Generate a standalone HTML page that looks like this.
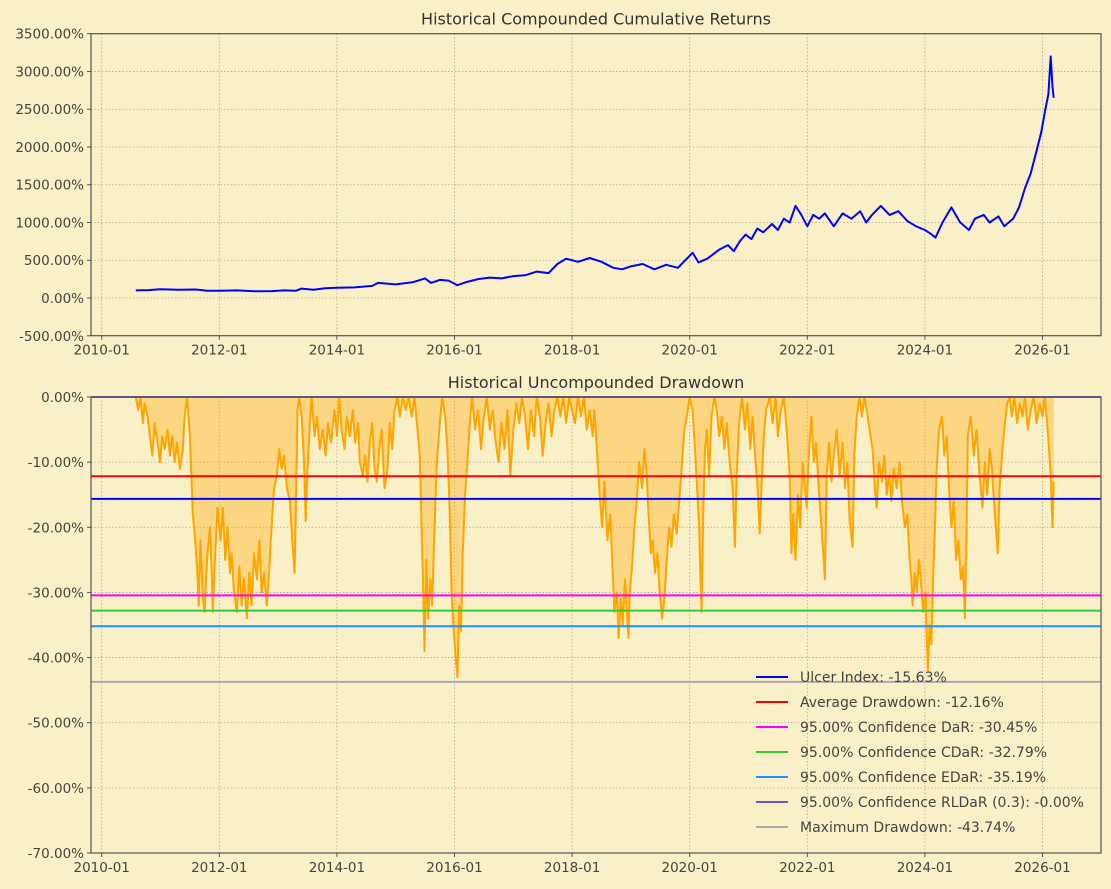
<!DOCTYPE html>
<html><head><meta charset="utf-8"><style>
body{margin:0;background:#faf0c8;}
svg{display:block;font-family:"DejaVu Sans","Liberation Sans",sans-serif;}
</style></head><body>
<svg id="chart" width="1111" height="889" viewBox="0 0 1111 889">
<rect width="1111" height="889" fill="#faf0c8"/>
<g id="top"></g>
<g id="bot"></g>
</svg>
<script>
const cumYears=[0.58,0.8,1.0,1.3,1.6,1.8,2.0,2.3,2.6,2.9,3.1,3.3,3.4,3.6,3.8,4.0,4.3,4.6,4.7,5.0,5.3,5.5,5.6,5.75,5.9,6.05,6.2,6.4,6.6,6.8,7.0,7.2,7.4,7.6,7.75,7.9,8.1,8.3,8.5,8.7,8.85,9.0,9.2,9.4,9.6,9.8,9.95,10.05,10.15,10.3,10.5,10.65,10.75,10.85,10.95,11.05,11.15,11.25,11.4,11.5,11.6,11.7,11.8,11.9,12.0,12.1,12.2,12.3,12.45,12.6,12.75,12.9,13.0,13.1,13.25,13.4,13.55,13.7,13.85,14.0,14.1,14.18,14.3,14.45,14.6,14.75,14.85,15.0,15.1,15.25,15.35,15.5,15.6,15.7,15.8,15.9,15.98,16.05,16.1,16.14,16.17,16.19];
const cumValues=[100,105,115,110,112,95,95,100,90,92,100,95,125,110,130,135,140,160,200,180,210,260,200,240,230,170,210,250,270,260,290,300,350,330,450,520,480,530,480,400,380,420,450,380,440,400,520,600,470,520,640,700,620,750,840,780,920,870,980,900,1050,1000,1220,1100,950,1100,1050,1120,950,1120,1050,1150,1000,1100,1220,1100,1150,1020,950,900,850,800,1000,1200,1000,900,1050,1100,1000,1080,950,1050,1200,1450,1650,1950,2200,2500,2700,3200,2800,2650];
const cumTicks=[-500,0,500,1000,1500,2000,2500,3000,3500];
const ddYears=[0.58,0.62,0.66,0.70,0.73,0.78,0.82,0.86,0.90,0.95,0.99,1.03,1.07,1.12,1.16,1.20,1.24,1.28,1.33,1.38,1.41,1.45,1.50,1.55,1.58,1.62,1.65,1.68,1.72,1.75,1.79,1.84,1.87,1.89,1.93,1.97,2.02,2.06,2.10,2.14,2.18,2.21,2.25,2.30,2.34,2.38,2.42,2.47,2.51,2.55,2.59,2.64,2.68,2.72,2.76,2.81,2.85,2.89,2.93,2.98,3.02,3.06,3.10,3.15,3.20,3.24,3.28,3.30,3.33,3.36,3.40,3.44,3.47,3.50,3.54,3.57,3.62,3.66,3.71,3.76,3.81,3.85,3.90,3.96,4.00,4.04,4.08,4.13,4.17,4.22,4.27,4.31,4.36,4.39,4.44,4.48,4.52,4.56,4.60,4.64,4.68,4.72,4.76,4.81,4.86,4.90,4.94,4.98,5.03,5.07,5.12,5.17,5.22,5.27,5.32,5.37,5.41,5.44,5.47,5.49,5.52,5.55,5.59,5.62,5.66,5.70,5.75,5.79,5.84,5.88,5.92,5.95,5.98,6.02,6.05,6.08,6.11,6.14,6.18,6.22,6.26,6.30,6.35,6.40,6.45,6.50,6.55,6.60,6.65,6.70,6.75,6.80,6.85,6.90,6.95,7.00,7.05,7.10,7.15,7.20,7.25,7.30,7.35,7.40,7.45,7.50,7.55,7.60,7.65,7.70,7.75,7.80,7.85,7.90,7.95,8.00,8.05,8.10,8.15,8.20,8.25,8.30,8.35,8.38,8.42,8.47,8.51,8.55,8.60,8.65,8.69,8.72,8.76,8.79,8.83,8.86,8.90,8.93,8.96,8.98,9.02,9.06,9.10,9.14,9.19,9.23,9.27,9.30,9.34,9.37,9.41,9.45,9.49,9.53,9.57,9.61,9.65,9.69,9.73,9.78,9.83,9.87,9.91,9.95,10.00,10.05,10.09,10.12,10.16,10.20,10.23,10.26,10.29,10.33,10.37,10.42,10.46,10.50,10.55,10.59,10.63,10.68,10.73,10.77,10.80,10.84,10.89,10.94,10.98,11.03,11.07,11.11,11.15,11.19,11.22,11.26,11.30,11.36,11.41,11.46,11.50,11.55,11.60,11.65,11.70,11.73,11.76,11.80,11.84,11.88,11.92,11.96,11.99,12.03,12.07,12.11,12.15,12.20,12.25,12.30,12.33,12.37,12.41,12.45,12.50,12.55,12.60,12.64,12.68,12.72,12.77,12.80,12.84,12.89,12.93,12.97,13.01,13.06,13.11,13.15,13.18,13.22,13.27,13.31,13.35,13.39,13.43,13.47,13.52,13.57,13.61,13.66,13.70,13.74,13.77,13.79,13.83,13.86,13.90,13.93,13.97,14.01,14.05,14.08,14.11,14.14,14.17,14.20,14.24,14.29,14.33,14.37,14.41,14.45,14.49,14.53,14.57,14.61,14.65,14.68,14.71,14.73,14.78,14.83,14.88,14.93,14.98,15.02,15.06,15.10,15.14,15.19,15.24,15.27,15.32,15.36,15.40,15.44,15.48,15.52,15.57,15.61,15.66,15.70,15.75,15.80,15.85,15.90,15.95,16.00,16.04,16.08,16.11,16.14,16.17,16.19];
const ddValues=[0,-2,0,-4,-1,-3,-6,-9,-4,-7,-10,-6,-8,-5,-9,-6,-10,-7,-11,-8,-3,0,-6,-18,-21,-26,-32,-22,-31,-33,-25,-20,-27,-33,-24,-17,-22,-17,-25,-20,-27,-24,-30,-33,-26,-32,-28,-34,-27,-32,-24,-28,-22,-30,-27,-32,-26,-20,-14,-12,-8,-11,-9,-14,-16,-22,-27,-18,-2,0,-3,-10,-19,-11,-4,0,-6,-3,-8,-5,-9,-4,-7,-2,-6,0,-5,-8,-3,-6,-2,-7,-4,-10,-12,-9,-13,-7,-4,-11,-13,-8,-5,-14,-11,-4,-8,-2,0,-3,0,-2,0,-3,0,-5,-9,-20,-30,-39,-25,-34,-28,-32,-20,-10,-4,0,-3,-8,-18,-30,-35,-40,-43,-32,-36,-24,-15,-10,-4,0,-5,-2,-8,-3,0,-5,-2,-7,-10,-4,-8,-2,-12,-5,-1,-4,0,-3,-8,-2,-6,0,-3,-9,-4,-1,-6,-2,0,-3,0,-4,0,-2,-4,0,-3,0,-5,-2,-6,-2,-8,-15,-20,-13,-22,-18,-27,-33,-30,-37,-31,-35,-28,-33,-37,-30,-26,-20,-16,-10,-14,-8,-12,-18,-24,-22,-27,-24,-30,-34,-31,-25,-20,-23,-18,-21,-15,-10,-5,-3,0,-2,-8,-13,-20,-33,-18,-8,-5,-12,-3,0,-2,-6,-3,-8,-4,-10,-14,-23,-12,-4,0,-5,-1,-8,-3,-9,-13,-21,-14,-6,-2,0,-4,0,-6,-2,0,-5,-12,-24,-18,-25,-15,-20,-10,-14,-17,-8,-3,-10,-7,-15,-21,-28,-12,-7,-13,-9,-5,-12,-7,-14,-10,-19,-23,-9,-3,0,-3,0,-2,-5,-8,-14,-17,-10,-13,-9,-15,-12,-16,-11,-14,-10,-16,-20,-18,-25,-28,-32,-27,-30,-25,-28,-33,-30,-42,-35,-38,-28,-20,-11,-5,-3,-9,-6,-14,-20,-16,-25,-22,-28,-26,-34,-20,-6,-3,-9,-5,-12,-17,-10,-15,-8,-11,-18,-24,-14,-8,-4,-1,0,-3,0,-4,-1,-3,0,-5,-2,0,-4,-1,-3,0,-4,-8,-12,-20,-13];
const ddTicks=[0,-10,-20,-30,-40,-50,-60,-70];
const xTicks=[2010,2012,2014,2016,2018,2020,2022,2024,2026];
const riskLabels=["Ulcer Index: -15.63%","Average Drawdown: -12.16%","95.00% Confidence DaR: -30.45%","95.00% Confidence CDaR: -32.79%","95.00% Confidence EDaR: -35.19%","95.00% Confidence RLDaR (0.3): -0.00%","Maximum Drawdown: -43.74%"];
const riskValues=[-15.63,-12.16,-30.45,-32.79,-35.19,-0.00,-43.74];
const riskColors=["#0000ff","#ff0000","#ff00ff","#32cd32","#1e90ff","#6a5acd","#a9a9a9"];
const riskNames=["ulcer-index","average-drawdown","dar","cdar","edar","rldar","max-drawdown"];

const NS="http://www.w3.org/2000/svg";
const L=91,R=1101;
const xs=y=>101.7+(y-2010)*58.8;
function el(parent,tag,attrs,text){const e=document.createElementNS(NS,tag);for(const k in attrs)e.setAttribute(k,attrs[k]);if(text!==undefined)e.textContent=text;parent.appendChild(e);return e;}

function axes(g,top,bot,ticks,ys,fmt,title,prefix){
  el(g,'rect',{x:L,y:top,width:R-L,height:bot-top,fill:'#faf0c8'});
  const tt=el(g,'text',{x:596,y:top-9,'text-anchor':'middle','font-size':16,fill:'#333'},title);
  
  ticks.forEach(t=>{const y=ys(t);
    const gl=el(g,'line',{x1:L,x2:R,y1:y,y2:y,stroke:'#b0a890','stroke-width':0.8,'stroke-dasharray':'1.5,2'});
    
    el(g,'line',{x1:L-4,x2:L,y1:y,y2:y,stroke:'#555'});
    const lb=el(g,'text',{x:L-7,y:y+5,'text-anchor':'end','font-size':13.5,fill:'#444'},fmt(t));
    
  });
  xTicks.forEach(t=>{const x=xs(t);
    const gl=el(g,'line',{x1:x,x2:x,y1:top,y2:bot,stroke:'#b0a890','stroke-width':0.8,'stroke-dasharray':'1.5,2'});
    
    el(g,'line',{x1:x,x2:x,y1:bot,y2:bot+4,stroke:'#555'});
    const lb=el(g,'text',{x:x,y:bot+19,'text-anchor':'middle','font-size':13.5,fill:'#444'},t+'-01');
    
  });
}

// top panel
const gt=document.getElementById('top');
const T0=33.7,T1=335.7;
const yTop=v=>298-v*(298-33.7)/3500;
axes(gt,T0,T1,cumTicks,yTop,t=>t.toFixed(2)+'%','Historical Compounded Cumulative Returns','cum');
const cp=cumYears.map((y,i)=>xs(2010+y).toFixed(1)+','+yTop(cumValues[i]).toFixed(1)).join(' ');
const cl=el(gt,'polyline',{points:cp,fill:'none',stroke:'#0000ff','stroke-width':2,'stroke-linejoin':'round'});


el(gt,'rect',{x:L,y:T0,width:R-L,height:T1-T0,fill:'none',stroke:'#555','stroke-width':1.2});

// bottom panel
const gb=document.getElementById('bot');
const B0=397,B1=853;
const yBot=v=>B0-v*(B1-B0)/70;
axes(gb,B0,B1,ddTicks,yBot,t=>t.toFixed(2)+'%','Historical Uncompounded Drawdown','dd');
const pts=ddYears.map((y,i)=>xs(2010+y).toFixed(1)+','+yBot(ddValues[i]).toFixed(1));
const first=xs(2010+ddYears[0]).toFixed(1),last=xs(2010+ddYears[ddYears.length-1]).toFixed(1);
const fa=el(gb,'polygon',{points:first+','+yBot(0)+' '+pts.join(' ')+' '+last+','+yBot(0),fill:'#ffa500','fill-opacity':0.35,stroke:'none'});


const dl=el(gb,'polyline',{points:pts.join(' '),fill:'none',stroke:'#ffa500','stroke-width':2,'stroke-linejoin':'round'});


riskValues.forEach((v,i)=>{
  const ln=el(gb,'line',{x1:L,x2:R,y1:yBot(v),y2:yBot(v),stroke:riskColors[i],'stroke-width':2});
  
  
});
// legend
riskLabels.forEach((t,i)=>{
  const y=677+i*25;
  const g=el(gb,'g',{});
  
  
  el(g,'line',{x1:756,x2:788,y1:y,y2:y,stroke:riskColors[i],'stroke-width':2});
  el(g,'text',{x:800,y:y+5,'font-size':14,fill:'#444'},t);
});
el(gb,'rect',{x:L,y:B0,width:R-L,height:B1-B0,fill:'none',stroke:'#555','stroke-width':1.2});
</script>
</body></html>
